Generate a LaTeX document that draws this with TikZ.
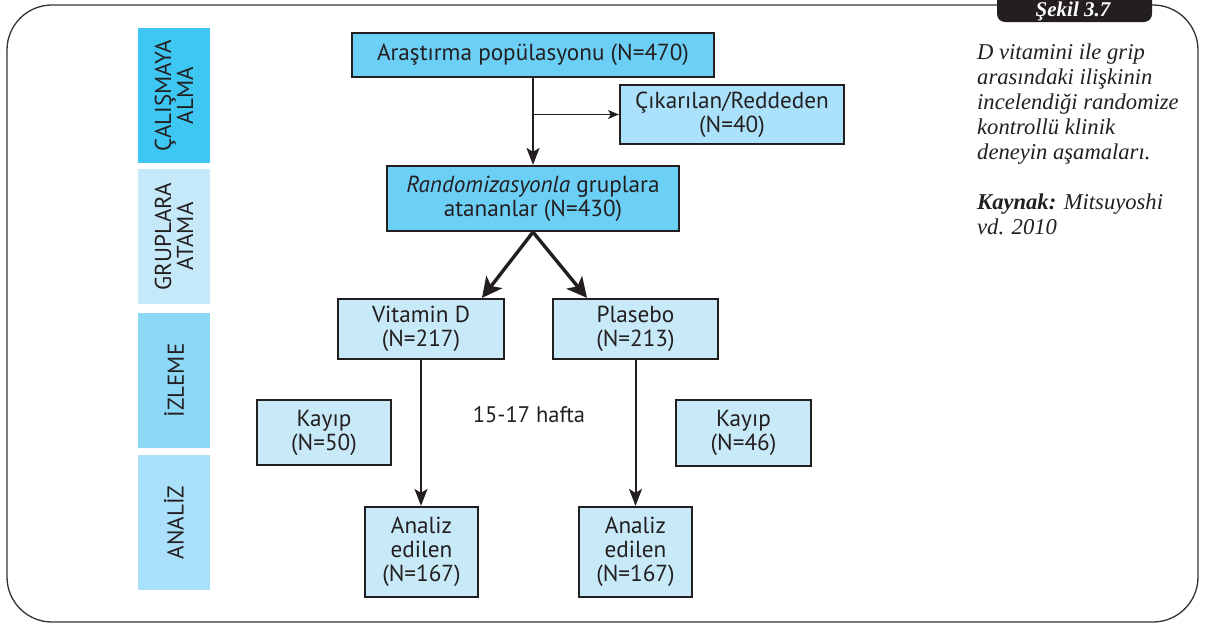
\documentclass[tikz,border=0pt]{standalone}
\usepackage{fontspec}
\setmainfont{Liberation Serif}
\setsansfont{PT Sans}
\usetikzlibrary{arrows.meta,calc}
\definecolor{ink}{HTML}{231F20}
\definecolor{barA}{HTML}{3FC7F4}
\definecolor{barB}{HTML}{C6E9F9}
\definecolor{barC}{HTML}{8DD8F6}
\definecolor{barD}{HTML}{AAE0F9}
\definecolor{cyanbox}{HTML}{6CCFF6}
\definecolor{midbox}{HTML}{ABE1FA}
\definecolor{lightbox}{HTML}{C7E9F8}
\begin{document}
\begin{tikzpicture}[x=1pt,y=-1pt,
  box/.style={draw=ink, line width=2.2pt, text=ink, align=center, inner sep=0pt,
    font=\sffamily\fontsize{23.2}{24}\selectfont},
  bar/.style={inner sep=0pt, text=ink, align=center, rotate=90,
    minimum width=135pt, minimum height=72pt,
    font=\sffamily\fontsize{23}{22}\selectfont},
  bigarrow/.style={draw=ink, line width=2pt, -{Stealth[length=17pt,width=13pt,inset=4pt]}},
  smallarrow/.style={draw=ink, line width=1pt, -{Stealth[length=11pt,width=9pt,inset=3pt]}},
  diagarrow/.style={draw=ink, line width=3.4pt, -{Stealth[length=20pt,width=20pt,inset=5pt]}},
  caption/.style={text=ink, align=left, inner sep=0pt,
    font=\itshape\fontsize{22.6}{25}\selectfont}
]
\useasboundingbox (0,0) rectangle (1205,624);
\fill[white] (0,0) rectangle (1205,624);

% outer frame
\draw[line width=1.3pt, draw=black!80, rounded corners=45] (7,5) rectangle (1198,622);
% tab
\fill[ink, rounded corners=8] (997,-30) rectangle (1152,22);
\node[text=white, anchor=base, inner sep=0pt,
  font=\bfseries\itshape\fontsize{21}{24}\selectfont] (tab) at (1073,16.5) {Şekil 3.7};

% side bars
\node[bar, fill=barA] (s1) at (174,95.5) {ÇALIŞMAYA\\ALMA};
\node[bar, fill=barB] (s2) at (174,236.5) {GRUPLARA\\ATAMA};
\node[bar, fill=barC] (s3) at (174,380.5) {İZLEME};
\node[bar, fill=barD] (s4) at (174,522.5) {ANALİZ};

% boxes
\node[box, fill=cyanbox, minimum width=362pt, minimum height=44pt] (A) at (533,55) {Araştırma popülasyonu (N=470)};
\node[box, fill=midbox, minimum width=224pt, minimum height=59pt] (C) at (732,114.5) {Çıkarılan/Reddeden\\(N=40)};
\node[box, fill=cyanbox, minimum width=292pt, minimum height=65pt] (R) at (533,198.5) {\textit{Randomizasyonla} gruplara\\atananlar (N=430)};
\node[box, fill=lightbox, minimum width=166pt, minimum height=60pt] (V) at (421,329) {Vitamin D\\(N=217)};
\node[box, fill=lightbox, minimum width=165pt, minimum height=60pt] (P) at (635.5,329) {Plasebo\\(N=213)};
\node[box, fill=lightbox, minimum width=134pt, minimum height=65pt] (K1) at (324,432.5) {Kayıp\\(N=50)};
\node[box, fill=lightbox, minimum width=135pt, minimum height=66pt] (K2) at (743.5,433) {Kayıp\\(N=46)};
\node[box, fill=lightbox, minimum width=113pt, minimum height=90pt] (N1) at (421.5,552) {Analiz\\edilen\\(N=167)};
\node[box, fill=lightbox, minimum width=113pt, minimum height=90pt] (N2) at (635.5,552) {Analiz\\edilen\\(N=167)};
\node[text=ink, inner sep=0pt, font=\sffamily\fontsize{22.5}{24}\selectfont] (wk) at (529,415) {15-17 hafta};

% connectors
\coordinate (br) at (A.south |- C.west);
\draw[bigarrow] (A.south) -- (R.north);
\draw[smallarrow] (br) -- (C.west);
\draw[diagarrow] (R.south) -- ([xshift=61pt]V.north);
\draw[diagarrow] (R.south) -- ([xshift=-48.5pt]P.north);
\draw[bigarrow] (V.south) -- (V.south |- N1.north);
\draw[bigarrow] (P.south) -- (N2.north);

% caption
\node[caption, anchor=north west] (cap) at (977,44) {D vitamini ile grip\\arasındaki ilişkinin\\incelendiği randomize\\kontrollü klinik\\deneyin aşamaları.\\[25pt]\textbf{Kaynak:} Mitsuyoshi\\vd. 2010};
\end{tikzpicture}
\end{document}
